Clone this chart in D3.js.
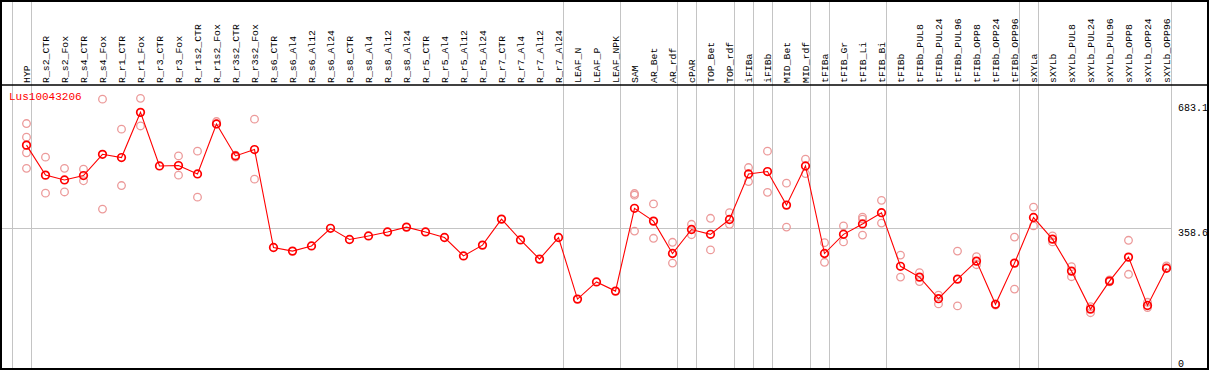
<!DOCTYPE html>
<html><head><meta charset="utf-8">
<script src="https://cdn.jsdelivr.net/npm/d3@7"></script>
<style>html,body{margin:0;padding:0;background:#fff}svg{display:block}</style>
</head><body>
<svg id="c" width="1209" height="370"></svg>
<script>
const geneName = "Lus10043206";
const categories = ["HYP","R_s2_CTR","R_s2_Fox","R_s4_CTR","R_s4_Fox","R_r1_CTR","R_r1_Fox","R_r3_CTR","R_r3_Fox","R_r1s2_CTR","R_r1s2_Fox","R_r3s2_CTR","R_r3s2_Fox","R_s6_CTR","R_s6_Al4","R_s6_Al12","R_s6_Al24","R_s8_CTR","R_s8_Al4","R_s8_Al12","R_s8_Al24","R_r5_CTR","R_r5_Al4","R_r5_Al12","R_r5_Al24","R_r7_CTR","R_r7_Al4","R_r7_Al12","R_r7_Al24","LEAF_N","LEAF_P","LEAF_NPK","SAM","AR_Bet","AR_rdf","cPAR","TOP_Bet","TOP_rdf","iFIBa","iFIBb","MID_Bet","MID_rdf","tFIBa","tFIB_Gr","tFIB_Li","tFIB_Bi","tFIBb","tFIBb_PUL8","tFIBb_PUL24","tFIBb_PUL96","tFIBb_OPP8","tFIBb_OPP24","tFIBb_OPP96","sXYLa","sXYLb","sXYLb_PUL8","sXYLb_PUL24","sXYLb_PUL96","sXYLb_OPP8","sXYLb_OPP24","sXYLb_OPP96"];
const meanValues = [566,491,479,490,543,535,648,514,515,494,619,539,555,310,301,314,358,330,339,349,361,349,335,289,316,381,329,281,335,181,224,201,408,376,295,355,343,380,494,500,416,514,295,343,369,397,263,236,182,231,276,168,271,385,331,251,156,226,286,165,258];
const replicateValues = [
 [620,586,547,508],[536,446],[508,449],[506,477],[681,406],[606,465],[683,614],[],[539,491],[551,436],[625,619],[541,536],[631,481],
 [],[],[],[],[],[],[],[],[],[],[],[],[],[],[],[],[],[],[],
 [445,441,351],[419,333],[323,271],[368,342],[383,304],[397,368],[510,475],[551,448],[471,361],[531,495],[322,273],[364,324],[386,381,341],[428,371],
 [291,236],[247,225],[191,169],[301,164],[287,267],[169,166],[336,206],[411,364],[339,324],[262,237],[162,147],[229,224],[328,243],[173,160],[264,260]
];
// categories after which a group separator is drawn ("" = before first)
const groupEnds = ["", "HYP","R_r7_Al24","LEAF_NPK","AR_rdf","cPAR","TOP_rdf","iFIBa","iFIBb","MID_rdf","tFIBa","tFIB_Bi","tFIBb_OPP96","sXYLa","sXYLb_OPP96"];
const yTickLabels = [683.1, 358.6, 0];
const refLine = 358.6;

const svg = d3.select("#c");
const W = 1209, H = 370;
const x = d3.scaleBand().domain(categories).range([17, 17 + 19*categories.length]).padding(0);
const cx = c => x(c) + x.bandwidth()/2;
const y = d3.scaleLinear().domain([0, 683.1]).range([371.5, 98.3]);
const headerY = 85;
const FONT = "Liberation Mono, DejaVu Sans Mono, monospace";

// vertical group separators
const sepX = g => g === "" ? cx(categories[0]) - x.step() + 4 : cx(g) + 4;
svg.append("g").selectAll("line").data(groupEnds).join("line")
  .attr("x1", d => Math.round(sepX(d)) + 0.5).attr("x2", d => Math.round(sepX(d)) + 0.5)
  .attr("y1", 1).attr("y2", H - 1)
  .attr("stroke", "#c4c4c4").attr("stroke-width", 1);

// reference horizontal line
svg.append("line").attr("x1", 1).attr("x2", Math.round(sepX("sXYLb_OPP96")) + 0.5)
  .attr("y1", Math.round(y(refLine)) + 0.5).attr("y2", Math.round(y(refLine)) + 0.5)
  .attr("stroke", "#c4c4c4").attr("stroke-width", 1);

// header line
svg.append("line").attr("x1", 1).attr("x2", W - 1).attr("y1", headerY).attr("y2", headerY)
  .attr("stroke", "#000").attr("stroke-width", 1.5);

// border
svg.append("rect").attr("x", 1).attr("y", 1).attr("width", W - 2).attr("height", H - 2)
  .attr("fill", "none").attr("stroke", "#000").attr("stroke-width", 2);

// category labels
svg.append("g").selectAll("text").data(categories).join("text")
  .attr("transform", d => `translate(${cx(d) + 3.5},${headerY - 2}) rotate(-90)`)
  .attr("font-family", FONT).attr("font-size", 9.8)
  .attr("fill", "#000").text(d => d);

// y tick labels
svg.append("g").selectAll("text").data(yTickLabels).join("text")
  .attr("x", 1178)
  .attr("y", d => Math.min(Math.max(y(d) + 8, 110.5), H - 3.5))
  .attr("font-family", FONT).attr("font-size", 10)
  .attr("fill", "#000").text(d => d);

// gene name
svg.append("text").attr("x", 9).attr("y", 100)
  .attr("font-family", FONT).attr("font-size", 11)
  .attr("fill", "#ff0000").text(geneName);

// replicates
const reps = [];
categories.forEach((c, i) => replicateValues[i].forEach(v => reps.push({c, v})));
svg.append("g").selectAll("circle").data(reps).join("circle")
  .attr("cx", d => cx(d.c)).attr("cy", d => y(d.v)).attr("r", 3.8)
  .attr("fill", "none").attr("stroke", "#ec9a9a").attr("stroke-width", 1.3);

// mean line
const line = d3.line().x((d, i) => cx(categories[i])).y(d => y(d));
svg.append("path").datum(meanValues).attr("d", line)
  .attr("fill", "none").attr("stroke", "#ff0000").attr("stroke-width", 1.1);

// mean points
svg.append("g").selectAll("circle").data(meanValues).join("circle")
  .attr("cx", (d, i) => cx(categories[i])).attr("cy", d => y(d)).attr("r", 3.8)
  .attr("fill", "none").attr("stroke", "#ff0000").attr("stroke-width", 1.7);
</script>
</body></html>
